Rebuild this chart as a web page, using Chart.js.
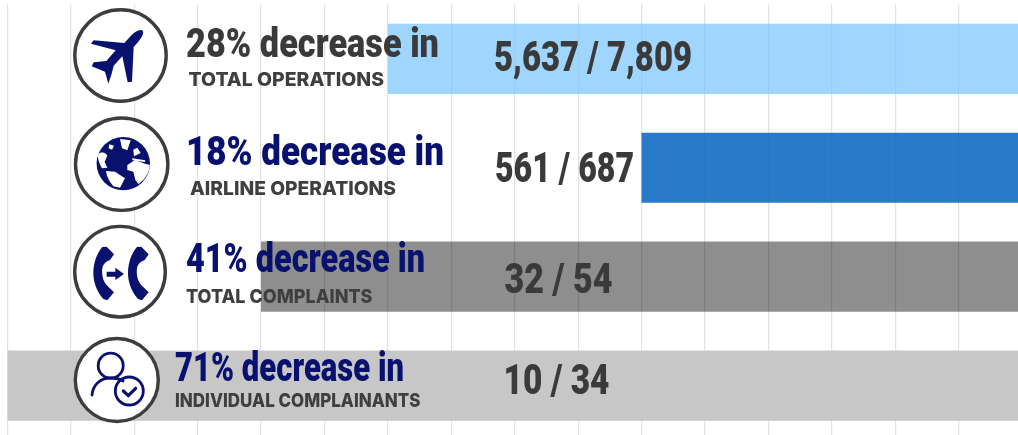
<!DOCTYPE html>
<html>
<head>
<meta charset="utf-8">
<script src="https://cdn.jsdelivr.net/npm/chart.js@4/dist/chart.umd.min.js"></script>
<style>
html, body { margin: 0; background: #fff; overflow: hidden; }
#wrap { position: relative; width: 1024px; height: 441px; }
</style>
</head>
<body>
<div id="wrap"><canvas id="chart" width="1024" height="441"></canvas></div>
<script>
// 값은 그림에서 읽은 것 (축 눈금 단위)
const categories = ['Total operations', 'Airline operations', 'Total complaints', 'Individual complainants'];
const barValues = [10, 6, 12, 16];
const barColors = ['rgba(119,195,252,.7)', 'rgba(19,108,196,.9)', 'rgba(0,0,0,.443)', '#c7c7c7'];

const headlines = ['28% decrease in', '18% decrease in', '41% decrease in', '71% decrease in'];
const subtitles = ['TOTAL OPERATIONS', 'AIRLINE OPERATIONS', 'TOTAL COMPLAINTS', 'INDIVIDUAL COMPLAINANTS'];
const counts = ['5,637 / 7,809', '561 / 687', '32 / 54', '10 / 34'];

const NAVY = '#08126e';
const DARK = '#3a3a3a';

// 행별 글자 위치
const headlinePos = [[186, 57, 253, DARK], [186, 165, 258, NAVY], [186, 271.7, 239, NAVY], [175, 381, 229, NAVY]];
const subtitlePos = [[188.5, 85.7, 195.5], [190, 195, 206], [186, 302.7, 186.5], [175, 406.7, 245.5]];
const countPos = [[494, 70.5, 198], [495, 181.7, 139], [504.5, 292.7, 108], [503.5, 394.3, 106]];
const circles = [[120.5, 55.5, 45.7], [121.7, 164.2, 46.2], [120, 271.7, 45.3], [116.8, 380, 41.5]];

function stretchedText(ctx, text, x, y, width, font, yScale, color) {
    ctx.save();
    ctx.font = font;
    ctx.fillStyle = color;
    ctx.textBaseline = 'alphabetic';
    ctx.translate(x, y);
    ctx.scale(width / ctx.measureText(text).width, yScale);
    ctx.fillText(text, 0, 0);
    ctx.restore();
}

function drawPlane(ctx) {
    ctx.translate(85, 25);
    ctx.scale(1 / 3, 1 / 3);
    ctx.fill(new Path2D('M172 16C178 22 172 36 160 50L146 66L141 170L128 172L112 94L86 122L80 146L70 176L60 140L20 124L26 112L64 108L92 76L18 56L26 46L118 54L140 30C150 20 164 12 172 16Z'));
}

// 대륙은 흰색, 바다는 남색
function drawGlobe(ctx) {
    ctx.beginPath();
    ctx.arc(123.3, 163.6, 26.7, 0, Math.PI * 2);
    ctx.fill();
    ctx.clip();
    ctx.translate(70, 115);
    ctx.scale(1 / 3, 1 / 3);
    ctx.fillStyle = '#fff';
    ['M82 118C95 108 108 112 112 122L104 140L112 158L96 160C88 148 84 132 82 118Z',
     'M118 88L132 92L126 104L116 100Z',
     'M150 72L182 76L172 106L156 100Z',
     'M108 168L135 170L165 190L150 218L130 214C118 200 110 185 108 168Z',
     'M172 150L195 135L225 146L240 150C238 175 222 197 205 207L196 195L190 170L172 165Z',
     'M190 104L202 98L212 114L192 124Z',
     'M186 130L226 136L224 141L188 136Z'
    ].forEach(d => ctx.fill(new Path2D(d)));
}

function drawPhones(ctx) {
    const handset = new Path2D('M97 66L110 65L132 88L120 105C108 110 100 115 97 130C94 150 100 175 115 185L132 202L112 226L100 222C80 200 70 170 70 145C70 115 80 85 97 66Z');
    ctx.translate(70, 225);
    ctx.scale(1 / 3, 1 / 3);
    ctx.fill(handset);
    ctx.translate(104, 0);
    ctx.fill(handset);
    ctx.translate(-104, 0);
    ctx.fill(new Path2D('M110 140H136V128L162 147L136 165V155H110Z'));
}

function drawPerson(ctx) {
    ctx.lineWidth = 2.8;
    ctx.strokeStyle = NAVY;
    ctx.lineCap = 'round';
    ctx.lineJoin = 'round';
    ctx.beginPath();
    ctx.arc(110.7, 365.7, 12.5, 0, Math.PI * 2);
    ctx.stroke();
    ctx.beginPath();
    ctx.moveTo(92, 395);
    ctx.bezierCurveTo(93, 385, 100, 378, 110.5, 378);
    ctx.bezierCurveTo(115, 378, 120, 379, 123, 381);
    ctx.stroke();
    ctx.beginPath();
    ctx.arc(129.3, 391, 14, 0, Math.PI * 2);
    ctx.stroke();
    ctx.lineWidth = 3.2;
    ctx.beginPath();
    ctx.moveTo(123.3, 391);
    ctx.lineTo(128.3, 395.7);
    ctx.lineTo(135.7, 388.3);
    ctx.stroke();
}

const iconDrawers = [drawPlane, drawGlobe, drawPhones, drawPerson];

// 막대 위에 원형 아이콘과 글자를 올리는 플러그인
const overlayPlugin = {
    id: 'overlay',
    afterDatasetsDraw(chart) {
        const ctx = chart.ctx;
        categories.forEach((c, i) => {
            const [cx, cy, r] = circles[i];
            ctx.save();
            ctx.beginPath();
            ctx.arc(cx, cy, r, 0, Math.PI * 2);
            ctx.fillStyle = '#fff';
            ctx.fill();
            ctx.lineWidth = 3.4;
            ctx.strokeStyle = '#3d3d3d';
            ctx.stroke();
            ctx.fillStyle = NAVY;
            iconDrawers[i](ctx);
            ctx.restore();

            const h = headlinePos[i];
            stretchedText(ctx, headlines[i], h[0], h[1], h[2], '900 36px Roboto', 1.12, h[3]);
            const s = subtitlePos[i];
            stretchedText(ctx, subtitles[i], s[0], s[1], s[2], '800 19px Inter', 1, '#3f3f3f');
            const n = countPos[i];
            stretchedText(ctx, counts[i], n[0], n[1], n[2], '900 37px Roboto', 1.13, DARK);
        });
    }
};

new Chart(document.getElementById('chart'), {
    type: 'bar',
    data: {
        labels: categories,
        datasets: [{
            data: barValues,
            backgroundColor: barColors,
            borderWidth: 0,
            barPercentage: 1,
            categoryPercentage: 0.645
        }]
    },
    options: {
        indexAxis: 'y',
        responsive: false,
        animation: false,
        layout: { padding: { left: 7.4, top: 4.4, right: 2, bottom: 1 } },
        plugins: {
            legend: { display: false },
            tooltip: { enabled: false }
        },
        scales: {
            x: {
                reverse: true,
                min: 0,
                max: 16,
                ticks: { stepSize: 1, display: false },
                grid: { color: '#e2e2e2', lineWidth: 1.2, drawTicks: false },
                border: { display: false }
            },
            y: {
                display: false
            }
        }
    },
    plugins: [overlayPlugin]
});
</script>
</body>
</html>
